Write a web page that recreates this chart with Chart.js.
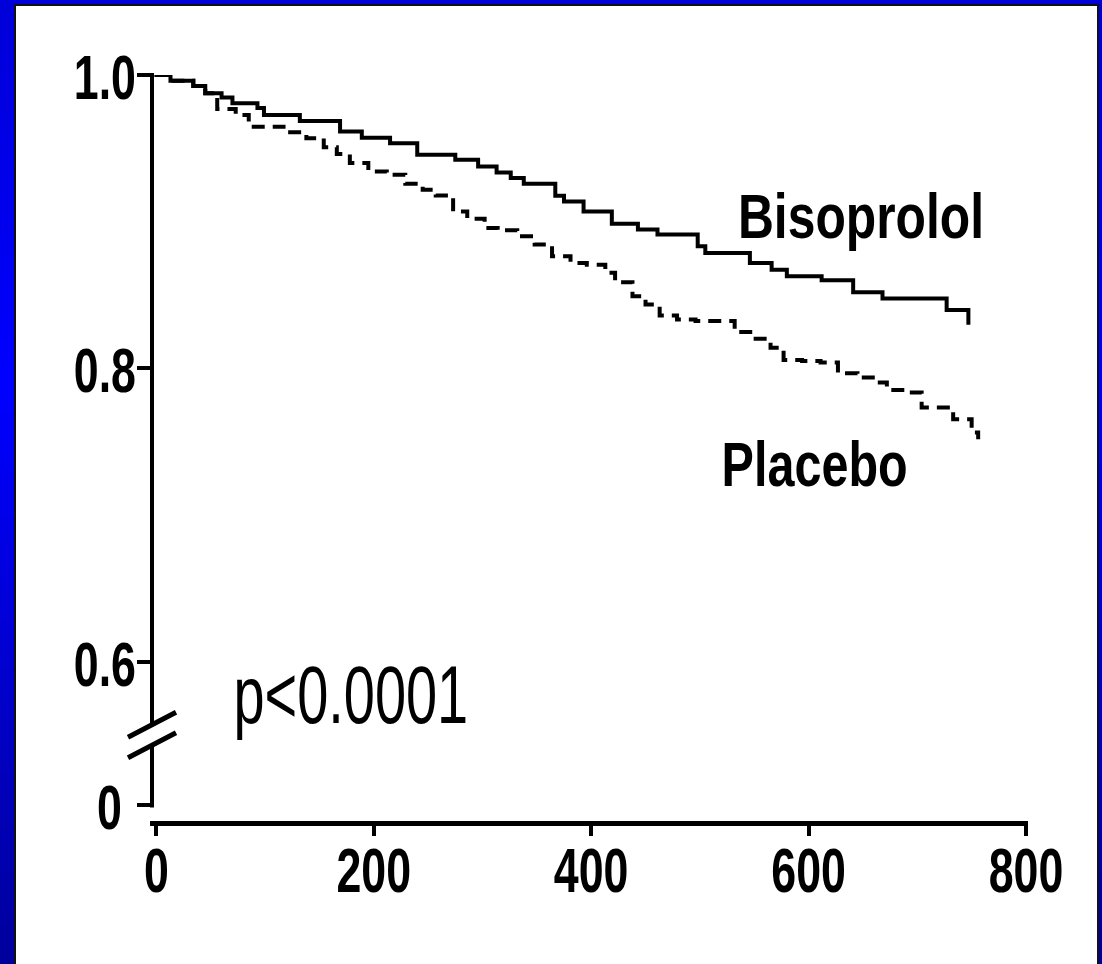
<!DOCTYPE html>
<html>
<head>
<meta charset="utf-8">
<script src="https://cdn.jsdelivr.net/npm/chart.js@4/dist/chart.umd.min.js"></script>
<style>
  html, body { margin: 0; padding: 0; }
  body {
    width: 1102px;
    height: 964px;
    overflow: hidden;
    background: linear-gradient(to bottom, #0000d8 0%, #0000ff 40%, #00009c 100%);
  }
  #frame {
    position: absolute;
    left: 14px;
    top: 4px;
    width: 1081px;
    height: 960px;
    background: #fff;
    border-left: 2px solid #111;
    border-top: 2px solid #111;
    border-right: 2px solid #111;
  }
  #km { display: block; }
</style>
</head>
<body>
<div id="frame"><canvas id="km" width="1081" height="960"></canvas></div>
<script>
// time (days) and survival level after each step
const bisoTimes = [0, 13, 34, 45, 60, 70, 93, 99, 132, 169, 189, 215, 240, 275, 296, 313, 326, 338, 367, 375, 393, 419, 443, 461, 498, 505, 546, 566, 580, 612, 641, 668, 727, 747];
const bisoSurv  = [1.0, 0.996, 0.9925, 0.9876, 0.9846, 0.9807, 0.9775, 0.9728, 0.9687, 0.9615, 0.9573, 0.9535, 0.9456, 0.9422, 0.9376, 0.9336, 0.9297, 0.9259, 0.9177, 0.9138, 0.907, 0.8986, 0.8946, 0.8912, 0.8832, 0.8787, 0.8719, 0.8673, 0.8628, 0.8601, 0.8519, 0.8476, 0.8397, 0.8311];

const placTimes = [0, 13, 34, 45, 56, 73, 85, 117, 138, 154, 166, 178, 195, 212, 229, 245, 257, 273, 286, 302, 314, 332, 348, 364, 381, 396, 413, 422, 438, 450, 463, 479, 496, 532, 549, 565, 577, 594, 611, 627, 645, 661, 672, 691, 704, 733, 750, 756];
const placSurv  = [1.0, 0.996, 0.9925, 0.9876, 0.9769, 0.9728, 0.9648, 0.961, 0.9569, 0.9508, 0.9461, 0.94, 0.9342, 0.932, 0.9259, 0.9218, 0.9179, 0.907, 0.902, 0.8957, 0.8941, 0.89, 0.8844, 0.8764, 0.8719, 0.8707, 0.8651, 0.8587, 0.8492, 0.8435, 0.836, 0.8333, 0.8322, 0.8247, 0.8202, 0.8141, 0.8056, 0.805, 0.8039, 0.7966, 0.7937, 0.7903, 0.7852, 0.7835, 0.7733, 0.7653, 0.7563, 0.7517];

const xTickValues = [0, 200, 400, 600, 800];
const xTickLabels = ["0", "200", "400", "600", "800"];
const yTickValues = [0.502, 0.6, 0.8, 1.0];
const yTickLabels = ["0", "0.6", "0.8", "1.0"];
const axisBreak = [0.543, 0.557];

const FONT = '"Liberation Sans", Arial, sans-serif';

function toPoints(xs, ys) {
  return xs.map((t, i) => ({ x: t, y: ys[i] }));
}

// condensed text: no narrow face is installed, so squeeze it sideways
function narrowText(ctx, text, x, y, sx, align) {
  ctx.save();
  ctx.textAlign = align;
  ctx.textBaseline = "alphabetic";
  ctx.scale(sx, 1);
  ctx.fillText(text, x / sx, y);
  ctx.restore();
}

// y axis line with the break, plus the slashes
const axisPlugin = {
  id: "axisBreak",
  afterDraw(chart) {
    const { ctx, chartArea, scales } = chart;
    const y = scales.y;
    const ax = chartArea.left;
    const top = y.getPixelForValue(1.0) - 2;
    const brTop = y.getPixelForValue(axisBreak[1]);
    const brBot = y.getPixelForValue(axisBreak[0]);
    const bottom = y.getPixelForValue(yTickValues[0]) + 2;

    ctx.save();
    ctx.strokeStyle = "#000";
    ctx.lineWidth = 4;
    ctx.beginPath();
    ctx.moveTo(ax, top);
    ctx.lineTo(ax, brTop);
    ctx.moveTo(ax, brBot);
    ctx.lineTo(ax, bottom);
    ctx.stroke();

    ctx.lineWidth = 5;
    ctx.beginPath();
    ctx.moveTo(ax - 24, brTop + 12.5);
    ctx.lineTo(ax + 24, brTop - 12.5);
    ctx.moveTo(ax - 24, brBot + 12.5);
    ctx.lineTo(ax + 24, brBot - 12.5);
    ctx.stroke();
    ctx.restore();
  }
};

// tick labels, curve names and p value
const textPlugin = {
  id: "kmText",
  afterDraw(chart) {
    const { ctx, chartArea, scales } = chart;
    const x = scales.x, y = scales.y;
    ctx.save();
    ctx.fillStyle = "#000";

    ctx.font = "bold 63px " + FONT;
    xTickValues.forEach((v, i) => {
      narrowText(ctx, xTickLabels[i], x.getPixelForValue(v), chartArea.bottom + 69, 0.71, "center");
    });
    yTickValues.forEach((v, i) => {
      // the "0" below the break sits a bit further out
      const gap = i === 0 ? 30 : 16;
      narrowText(ctx, yTickLabels[i], chartArea.left - gap, y.getPixelForValue(v) + 24, 0.71, "right");
    });

    narrowText(ctx, "Bisoprolol", x.getPixelForValue(535), y.getPixelForValue(0.889), 0.79, "left");
    narrowText(ctx, "Placebo", x.getPixelForValue(520), y.getPixelForValue(0.7197), 0.77, "left");

    ctx.font = "normal 81px " + FONT;
    narrowText(ctx, "p<0.0001", x.getPixelForValue(71), y.getPixelForValue(0.558), 0.69, "left");
    ctx.restore();
  }
};

const ctx = document.getElementById("km");

new Chart(ctx, {
  type: "line",
  data: {
    datasets: [
      {
        label: "Bisoprolol",
        data: toPoints(bisoTimes, bisoSurv),
        borderColor: "#000",
        borderWidth: 4,
        borderCapStyle: "square",
        stepped: "before",
        pointRadius: 0,
        fill: false
      },
      {
        label: "Placebo",
        data: toPoints(placTimes, placSurv),
        borderColor: "#000",
        borderWidth: 4,
        borderDash: [13, 8],
        stepped: "before",
        pointRadius: 0,
        fill: false
      }
    ]
  },
  options: {
    responsive: false,
    animation: false,
    events: [],
    layout: {
      padding: { left: 0, top: 69, right: 71, bottom: 0 }
    },
    plugins: {
      legend: { display: false },
      tooltip: { enabled: false }
    },
    scales: {
      x: {
        type: "linear",
        min: -4,
        max: 800,
        afterBuildTicks: (scale) => {
          scale.ticks = xTickValues.map((v) => ({ value: v }));
        },
        afterFit: (scale) => {
          scale.height = 143;
        },
        border: { display: true, color: "#000", width: 5 },
        grid: {
          drawOnChartArea: false,
          drawTicks: true,
          tickLength: 13,
          lineWidth: 4,
          color: "#000"
        },
        ticks: { display: false }
      },
      y: {
        type: "linear",
        min: 0.49,
        max: 1.0,
        afterBuildTicks: (scale) => {
          scale.ticks = yTickValues.map((v) => ({ value: v }));
        },
        afterFit: (scale) => {
          scale.width = 136;
        },
        border: { display: false },
        grid: {
          drawOnChartArea: false,
          drawTicks: true,
          tickLength: 15,
          lineWidth: 4,
          color: "#000"
        },
        ticks: { display: false }
      }
    }
  },
  plugins: [axisPlugin, textPlugin]
});
</script>
</body>
</html>
